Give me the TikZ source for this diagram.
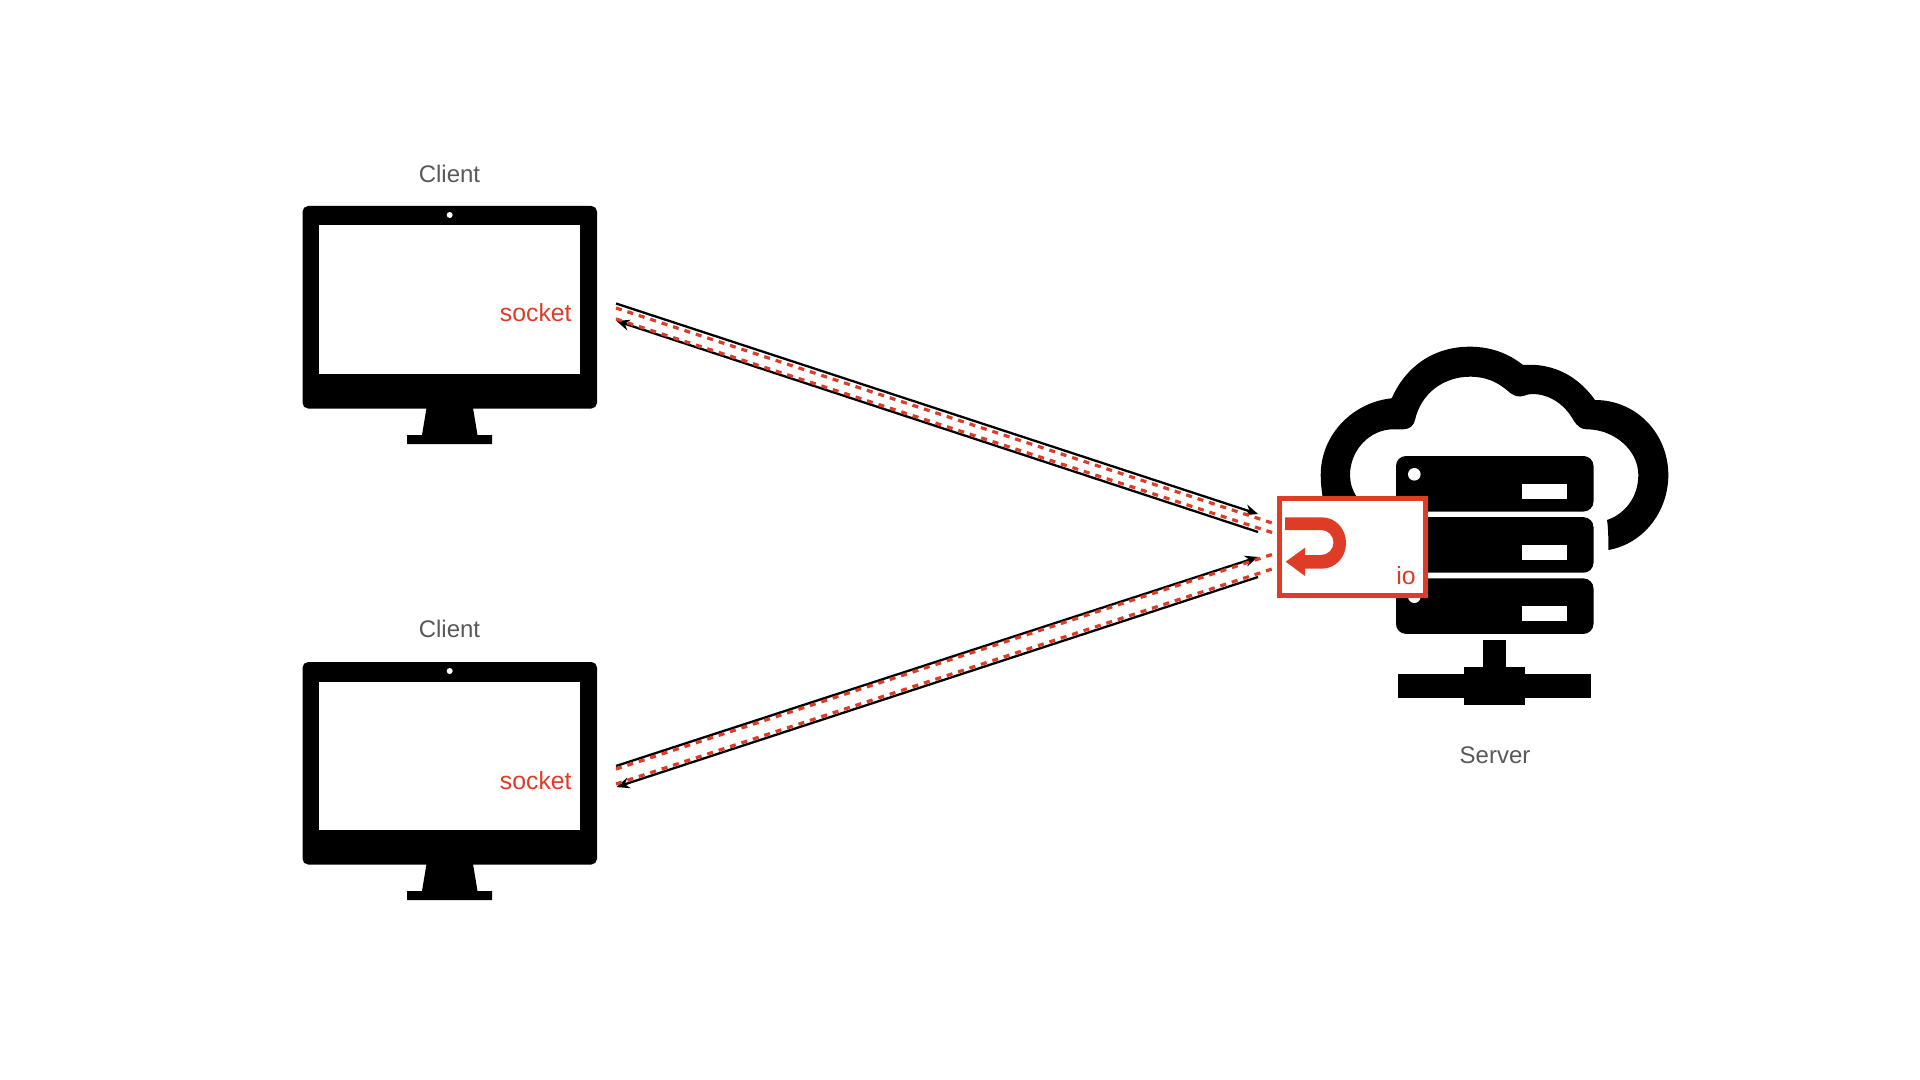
\documentclass[tikz,border=0pt]{standalone}
\usepackage{fontspec}
\setmainfont{Liberation Sans}
\usetikzlibrary{arrows.meta}
\definecolor{accent}{HTML}{DE3C27}
\definecolor{labelgray}{HTML}{595959}
\tikzset{
  x=0.5pt,y=-0.5pt,
  label text/.style={text=labelgray,font=\fontsize{12}{14}\selectfont,inner sep=0pt,anchor=center},
  red text/.style={text=accent,font=\fontsize{12.4}{14}\selectfont,inner sep=0pt,anchor=east},
  solid link/.style={draw=black,line width=1.15pt,-{Stealth[length=6.5pt,width=5.5pt]}},
  dashed link/.style={draw=accent,line width=1.6pt,dash pattern=on 3pt off 3pt},
  monitor/.pic={
    \fill[black,rounded corners=2.8pt] (302.5,206) rectangle (597,408.5);
    \fill[white] (319,225.5) rectangle (580,374);
    \fill[white] (449.7,215) circle[radius=3];
    \fill[black] (427,405) -- (472.5,405) -- (477.5,435) -- (492,435) -- (492,444) -- (407,444) -- (407,435) -- (422,435) -- cycle;
  },
  rack/.pic={
    \fill[black,rounded corners=5pt] (1396,456) rectangle (1593.5,511.5);
    \fill[white] (1414.3,474.3) circle[radius=6.3];
    \fill[white] (1521.7,483.7) rectangle (1566.5,499);
  }
}
\begin{document}
\begin{tikzpicture}
\useasboundingbox (0,0) rectangle (1920,1080);
\fill[white] (0,0) rectangle (1920,1080);
% clients
\pic at (0,0) {monitor};
\pic at (0,456) {monitor};
\node[label text] (client1) at (449.5,173.5) {Client};
\node[label text] (client2) at (449.5,629) {Client};
\node[red text] (socket1) at (572,313) {socket};
\node[red text] (socket2) at (572,781) {socket};
% cloud
\fill[black]
  (1608.3,550) .. controls (1643,544) and (1668.3,512) .. (1668.3,475)
  .. controls (1668.3,433.6) and (1636.4,400) .. (1595,400)
  .. controls (1575,372) and (1548,363) .. (1523,365)
  .. controls (1508,353) and (1490,346.7) .. (1470,346.7)
  .. controls (1432,346.7) and (1405,368) .. (1391.7,398.3)
  .. controls (1354,402) and (1320.7,433.6) .. (1320.7,475)
  .. controls (1320.7,485) and (1322,495) .. (1325,510)
  -- (1360,510) -- (1356.7,496.7)
  .. controls (1352,490) and (1350,482) .. (1350,475)
  .. controls (1350,450) and (1370,429.3) .. (1393.3,429.3)
  -- (1403.3,429.3)
  .. controls (1410,429.3) and (1414,425) .. (1415,420)
  .. controls (1421,393) and (1444,376.7) .. (1470,376.7)
  .. controls (1486,376.7) and (1497,382) .. (1506.7,390)
  .. controls (1512,395) and (1516,396.5) .. (1520,396.5)
  .. controls (1524,396.5) and (1527,394) .. (1532,394)
  .. controls (1550,394) and (1565,405) .. (1573.3,420)
  .. controls (1577,426) and (1581,429.3) .. (1586.7,429.3)
  .. controls (1614,429.3) and (1638.3,450) .. (1638.3,475)
  .. controls (1638.3,497) and (1625,514) .. (1607,520)
  .. controls (1608.5,530) and (1608.3,540) .. (1608.3,550) -- cycle;
% server racks
\pic at (0,0) {rack};
\pic at (0,61.2) {rack};
\pic at (0,122.4) {rack};
% network foot
\fill[black] (1483,640) rectangle (1506.3,668);
\fill[black] (1464,667) rectangle (1525.3,705.3);
\fill[black] (1398,674.3) rectangle (1591,697.7);
\node (server) [label text] at (1495,755) {Server};
% io box
\node (iobox) [draw=accent,fill=white,line width=2.5pt,inner sep=0pt,outer sep=0pt,minimum width=72.8pt,minimum height=48.3pt,anchor=north west] at (1279.5,498.5) {};
\fill[accent]
  (1285,517.3) -- (1321.5,517.3)
  .. controls (1335.7,517.3) and (1346,528.8) .. (1346,543)
  .. controls (1346,557.2) and (1335.7,568.7) .. (1321.5,568.7)
  -- (1305,568.7) -- (1305,576) -- (1285.7,561.7) -- (1305,547.7) -- (1305,555)
  -- (1321,555)
  .. controls (1328,555) and (1333.5,549.5) .. (1333.5,542.5)
  .. controls (1333.5,535.5) and (1328,530) .. (1321,530)
  -- (1285,530) -- cycle;
\node[red text] (iolabel) at (1416,576) {io};
% connector ends
\coordinate (a1) at (616,303.5);
\coordinate (a2) at (1258,514);
\coordinate (b1) at (1258,532);
\coordinate (b2) at (616.5,321);
\coordinate (c1) at (616,308);
\coordinate (c2) at (1272,523);
\coordinate (d1) at (616,319);
\coordinate (d2) at (1272,532.5);
\coordinate (e1) at (616,766);
\coordinate (e2) at (1258,557);
\coordinate (f1) at (1258,577);
\coordinate (f2) at (616.5,787);
\coordinate (g1) at (616,769);
\coordinate (g2) at (1272,554.5);
\coordinate (h1) at (616,784);
\coordinate (h2) at (1272,569);
\draw[solid link] (a1) -- (a2);
\draw[solid link] (b1) -- (b2);
\draw[solid link] (e1) -- (e2);
\draw[solid link] (f1) -- (f2);
\draw[dashed link] (c1) -- (c2);
\draw[dashed link] (d1) -- (d2);
\draw[dashed link] (g1) -- (g2);
\draw[dashed link] (h1) -- (h2);
\end{tikzpicture}
\end{document}
